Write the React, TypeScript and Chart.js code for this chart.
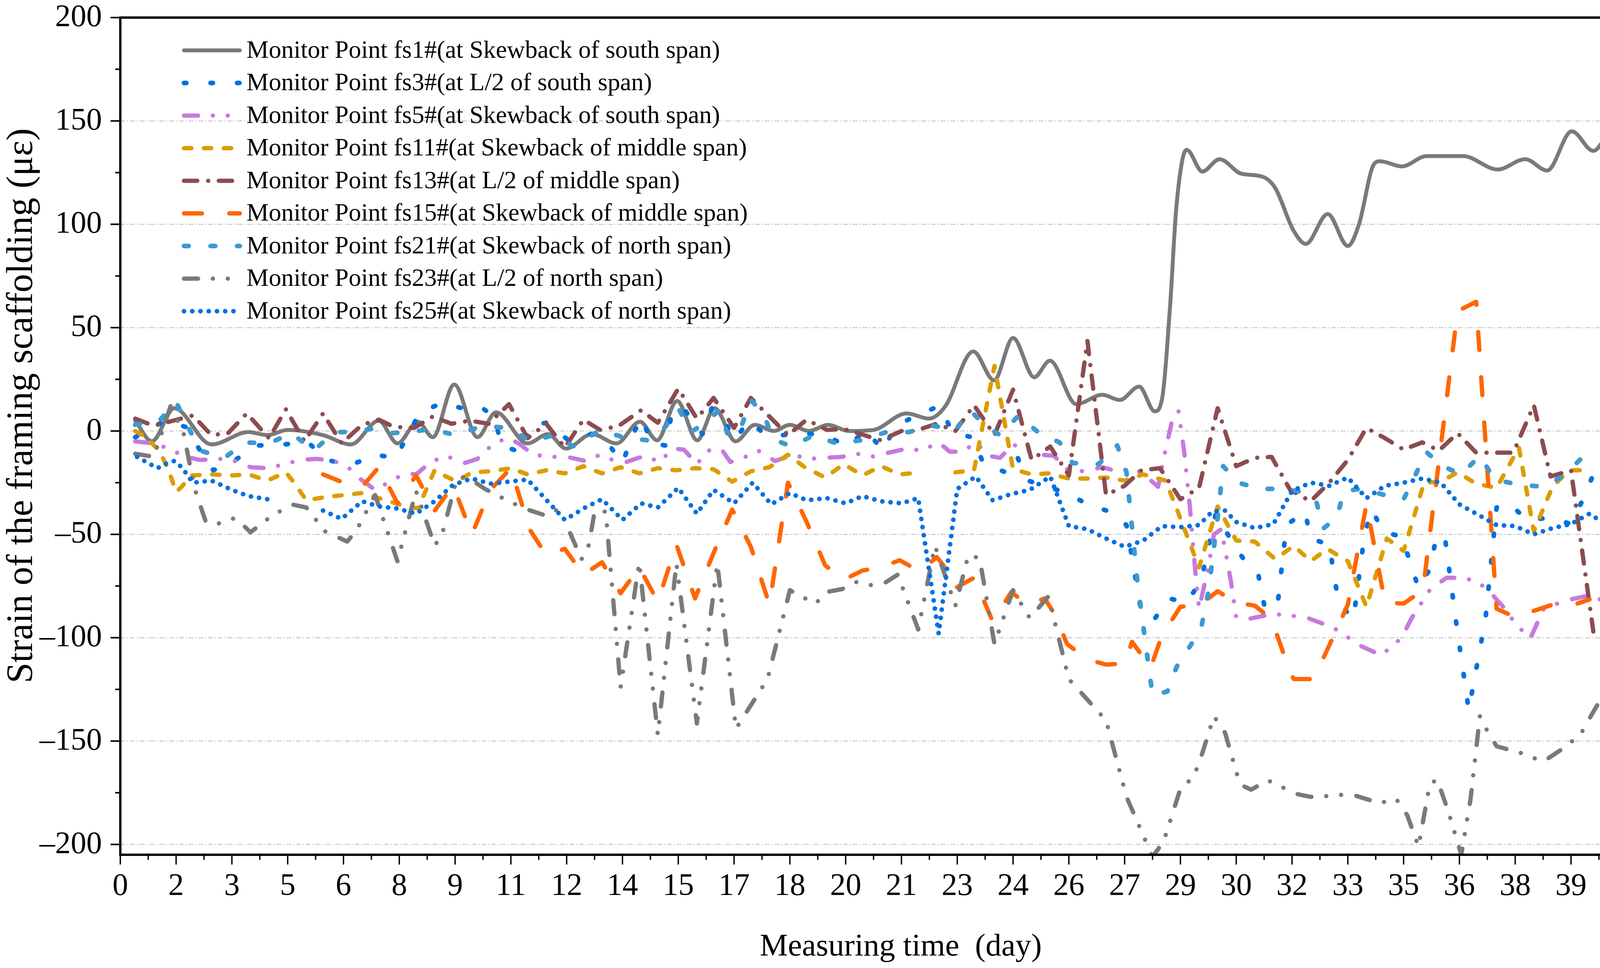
import React, { useEffect, useRef } from 'react';
import { Chart, registerables } from 'chart.js';

Chart.register(...registerables);

type Pt = [number, number | null];

// ---------------- data (time in days, strain in με) ----------------
const fs1: Pt[] = [[0.4,5],[0.85,-5],[1.45,11],[2.45,-6.5],[3.45,-0.5],[3.95,-2],[4.5,0.5],[5.45,-2],[6.2,-6.5],[6.95,5],[7.45,-6],[8.0,4.5],[8.4,-3],[8.98,22.5],[9.6,-3],[10.1,9],[10.95,-6],[11.5,-1.5],[11.98,-8.5],[12.68,-1.5],[13.34,-6],[13.97,4.5],[14.43,-4.5],[14.97,14.5],[15.51,-4.5],[15.98,11],[16.54,-5],[17.06,3],[17.57,0],[18.0,3],[18.51,0],[19.03,3],[19.59,0],[20.24,0.5],[21.14,8.5],[21.74,6],[22.18,12],[22.93,38.5],[23.49,24.5],[24.0,45],[24.57,26],[24.99,34],[25.7,13],[26.4,17.5],[26.87,15],[27.39,21.5],[27.81,9.5],[28.0,15],[28.22,60],[28.38,106],[28.55,131],[28.67,136],[29.09,125.5],[29.55,131.5],[30.13,124.5],[30.71,123],[31.05,117.5],[31.54,97],[31.87,90.5],[32.46,105],[33.0,89.5],[33.3,100],[33.7,129],[33.87,130.5],[34.45,128],[35.12,133],[36.1,133],[37.03,126.5],[37.77,131.5],[38.36,126],[39.02,145],[39.6,135.5],[40.0,144]];

const fs3: Pt[] = [[0.4,-3],[1.2,5],[1.75,2],[2.2,-11],[2.5,-19],[3.0,-15],[3.7,-7],[4.4,-6.5],[5.05,-5.5],[5.55,-14],[6.2,-16.5],[6.85,-11.5],[7.4,-13],[7.75,-1.5],[8.05,9],[8.65,13.5],[9.2,11],[9.7,11.5],[10.05,7],[10.25,-7],[10.8,-10.5],[11.0,2.5],[11.45,4],[12.05,-4.5],[12.65,-1.5],[13.15,-7],[13.5,-15.5],[13.75,-3],[14.0,6.5],[14.3,-6],[14.65,-7],[14.8,6],[15.1,12],[15.65,-1.5],[15.9,11],[16.25,5],[16.5,-4.5],[16.9,5],[17.35,-2],[17.8,-2],[18.25,-1],[18.95,-2],[19.55,-7.5],[20.05,0.5],[20.5,-9.5],[20.85,2.5],[21.35,7],[22.0,12],[22.4,-1],[22.9,-3],[23.2,-15.5],[23.8,-20],[24.1,-12],[24.4,-24],[25.45,-30],[26.0,-35.5],[26.6,-39],[27.05,-45.5],[27.45,-88],[27.8,-91],[28.2,-81],[28.65,-83],[29.05,-73],[29.45,-40],[29.9,-54],[30.2,-62],[30.6,-70],[30.75,-84],[31.1,-86],[31.35,-45.5],[31.85,-39],[32.0,-52],[32.5,-55],[32.75,-83],[33.15,-91],[33.45,-50],[33.65,-38],[33.95,-49],[34.45,-51],[34.9,-76],[35.2,-67],[35.35,-54],[35.6,-50],[35.9,-91],[36.25,-135],[36.7,-91],[37.0,-37],[37.35,-35],[37.8,-43],[38.45,-42],[39.0,-45],[39.35,-32],[39.6,-21],[39.8,-15]];

const fs5: Pt[] = [[0.4,-5],[0.9,-6],[1.3,-8.5],[1.75,-12.5],[2.15,-14],[2.7,-13.5],[3.0,-14],[3.5,-17.5],[3.95,-18],[4.45,-16],[4.8,-14],[5.3,-13.5],[5.75,-14.5],[6.15,-18],[6.4,-22.5],[6.85,-28.5],[7.25,-24.5],[7.65,-20.5],[7.95,-21],[8.35,-15],[8.75,-12],[9.25,-15.5],[9.6,-13.5],[9.95,-7.5],[10.4,-3],[10.75,-6.5],[11.1,-11.5],[11.6,-12.5],[12.0,-12.5],[12.5,-14.5],[12.9,-11.5],[13.3,-14.5],[13.6,-15],[14.1,-12],[14.5,-15],[14.85,-8.5],[15.15,-9],[15.5,-16],[15.8,-9.5],[16.15,-8.5],[16.4,-15],[16.8,-12.5],[17.15,-9.5],[17.6,-14.5],[18.1,-11.5],[18.5,-13.5],[18.9,-13],[19.4,-12.5],[19.8,-11],[20.3,-12.5],[20.65,-10.5],[21.15,-8.5],[21.55,-9.5],[22.0,-5.5],[22.3,-10],[22.65,-10],[23.0,-5.5],[23.35,-12],[23.65,-13],[24.0,-6.5],[24.3,-9],[24.8,-11.5],[25.1,-12],[25.45,-18.5],[25.9,-19.5],[26.4,-17.5],[26.8,-19.5],[27.25,-18],[27.55,-21.5],[27.9,-27],[28.1,-9],[28.3,7],[28.45,9.5],[28.6,-10],[28.75,-36],[28.9,-68],[29.0,-86],[29.25,-66],[29.4,-50],[29.6,-47.5],[29.85,-72],[30.0,-90],[30.3,-91],[31.0,-88.5],[31.85,-90],[32.6,-95],[33.35,-104],[33.9,-108.5],[34.45,-100],[34.7,-91],[35.2,-77],[35.65,-71],[36.1,-71],[36.5,-73],[36.85,-78.5],[37.2,-85.5],[37.5,-93],[37.9,-100.5],[38.27,-86],[38.85,-82],[39.5,-79.5],[40.0,-83]];

const fs11: Pt[] = [[0.4,0],[0.65,-2.5],[1.05,-9.5],[1.3,-19],[1.5,-29.5],[1.65,-27],[1.9,-21.5],[2.45,-21],[3.0,-21.5],[3.45,-21],[3.95,-24],[4.45,-20],[4.65,-24.5],[5.0,-33.5],[5.5,-32],[6.0,-31],[6.5,-30],[6.95,-32.5],[7.5,-35.5],[8.0,-37.5],[8.45,-19],[8.7,-21.5],[9.05,-24.5],[9.45,-20],[9.95,-19.5],[10.5,-18],[10.95,-21],[11.45,-19],[11.95,-20.5],[12.45,-17],[12.95,-20.5],[13.45,-17.5],[13.95,-20.5],[14.45,-18],[14.95,-19],[15.45,-18],[15.95,-18.5],[16.45,-24.5],[16.95,-19.5],[17.45,-17.5],[17.95,-11.5],[18.4,-17.5],[18.95,-22.5],[19.45,-16],[19.95,-21.5],[20.45,-17],[20.95,-21],[21.25,-20.5],[21.8,null],[22.45,-20],[22.95,-19],[23.5,31.5],[24.0,-18.5],[24.5,-21],[24.95,-20.5],[25.5,-23],[26.0,-23],[26.5,-22.5],[27.0,-24],[27.5,-21],[28.1,-24],[28.45,-40],[29.0,-66],[29.5,-36.5],[30.0,-53],[30.5,-53.5],[31.05,-62],[31.55,-55.5],[32.0,-63],[32.45,-57],[33.0,-63],[33.5,-85],[34.05,-52],[34.5,-58],[35.05,-25],[35.5,-24.5],[35.95,-20],[36.45,-25.5],[37.0,-27.5],[37.6,-8],[38.0,-48.5],[38.5,-27],[38.95,-19],[39.25,-19]];

const fs13: Pt[] = [[0.4,6],[0.9,2.5],[1.95,7.5],[2.45,-2],[2.9,-1],[3.4,8.5],[4.0,-3.5],[4.45,10.5],[4.95,-5],[5.45,8.5],[5.95,-6],[6.5,3],[6.95,5.5],[7.35,2],[7.9,1.5],[8.4,7],[8.9,3.5],[9.4,5],[9.9,3.5],[10.45,13],[10.95,-3.5],[11.45,3.5],[11.95,-8],[12.45,5.5],[12.9,0.5],[13.4,2.5],[14.0,10],[14.45,4],[15.0,20.5],[15.5,6],[15.95,16],[16.5,1.5],[16.95,16],[17.95,-2],[18.45,5.5],[19.0,0.5],[19.45,1],[20.45,-4.5],[21.0,0],[21.35,0],[21.95,3.5],[22.45,0],[22.95,12.5],[23.5,-2],[24.0,20],[24.5,-14],[25.0,-7.5],[25.5,-21.5],[26.0,43.5],[26.5,-31],[27.0,-26.5],[27.45,-19],[27.95,-18],[28.5,-33],[29.0,-27.5],[29.5,11],[30.0,-17],[30.5,-13],[30.95,-12.5],[31.45,-28.5],[32.0,-34],[32.5,-25],[33.0,-14],[33.5,1.5],[34.0,-3.5],[34.5,-9],[35.0,-5.5],[35.45,-9.5],[35.95,-1],[36.45,-10.5],[37.45,-10.5],[38.0,12.5],[38.45,-22],[39.0,-19],[39.6,-97]];

const fs15: Pt[] = [[5.45,-21],[6.0,-25],[6.5,-27],[6.95,-17.5],[7.45,-35],[7.95,-21.5],[8.45,-38.5],[8.95,-26.5],[9.45,-50],[9.95,-28.5],[10.5,-18],[11.0,-47.5],[11.45,-60],[11.95,-57],[12.45,-69.5],[12.95,-63.5],[13.45,-78.5],[13.95,-66],[14.45,-82.5],[14.95,-55],[15.45,-81],[15.95,-59],[16.45,-38],[16.95,-56],[17.45,-84],[17.95,-25],[18.45,-44],[18.95,-65],[19.45,-72],[19.95,-67.5],[20.45,-66],[20.95,-62.5],[21.5,-68],[21.95,-61],[22.3,-69],[22.45,-76],[22.95,-71],[23.45,-92],[23.95,-78],[24.4,-84],[24.85,-81],[25.15,-89.5],[25.45,-103],[26.0,-110.5],[26.5,-113],[27.0,-112.5],[27.2,-102],[27.7,-114.5],[28.0,-99],[28.5,-85],[29.0,-84.5],[29.5,-77.5],[30.0,-83],[30.5,-84.5],[30.95,-91],[31.45,-117],[31.55,-120],[32.05,-120],[32.3,-111.5],[32.75,-94],[33.0,-84],[33.5,-35.5],[34.0,-83],[34.5,-83.5],[35.02,-77],[35.95,58],[36.45,62.5],[37.0,-86],[37.5,-90],[38.5,-84],[39.0,-84.5],[39.5,-81.5]];

const fs21: Pt[] = [[0.4,3],[1.05,5],[1.5,14],[1.85,1],[2.15,-9.5],[2.8,-13],[3.35,-5.5],[4.0,-6],[4.6,-1],[5.2,-9.5],[5.75,-0.5],[6.25,-0.5],[6.75,1],[7.3,-1],[7.8,-0.5],[8.35,1],[9.0,-2],[9.75,2.5],[10.4,1.5],[11.05,-5],[11.65,-2],[12.2,-7.5],[12.9,0.5],[13.6,-3.5],[14.2,-4.5],[14.65,2],[15.0,11],[15.35,-0.5],[15.75,4.5],[16.1,10],[16.35,-2.5],[16.7,2.5],[16.95,15],[17.3,8],[17.55,-4],[18.05,-7.5],[18.65,-2],[19.25,-6],[19.9,-4.5],[20.6,-0.5],[21.2,-0.5],[21.85,2.5],[22.45,0.5],[22.85,10],[23.25,2.5],[23.65,-2],[24.15,7.5],[24.7,-1],[25.25,-5.5],[25.6,-15.5],[26.3,-16],[26.8,-7],[27.05,-20],[27.35,-74],[27.75,-128],[28.15,-126],[28.4,-114],[29.05,-96],[29.25,-78],[29.5,-42],[29.65,-17],[30.05,-25],[30.65,-28],[31.2,-28],[31.65,-29],[32.15,-34],[32.35,-47],[32.7,-42],[32.9,-29],[33.35,-28],[34.0,-31],[34.5,-33],[34.85,-20],[35.1,-10],[35.55,-17],[36.05,-21],[36.55,-12],[36.95,-23.5],[37.6,-26],[38.3,-27],[38.85,-21],[39.4,-11],[39.6,-10]];

const fs23: Pt[] = [[0.4,-11],[0.9,-12.5],[1.35,12],[1.7,-1],[2.0,-28],[2.3,-44],[2.6,-45],[3.1,-42],[3.5,-49],[4.0,-42],[4.6,-35.5],[5.0,-37],[5.5,-48.5],[6.1,-53.5],[6.35,-48],[6.85,-31],[7.45,-63],[7.95,-29],[8.45,-55.5],[8.65,-50],[9.05,-23],[9.3,-22],[9.8,-28],[10.5,-34.5],[10.95,-38],[11.45,-41],[11.8,-37.5],[12.4,-62],[12.6,-55],[12.75,-39],[13.05,-39],[13.45,-124],[13.95,-63.5],[14.45,-147],[14.95,-64],[15.5,-141.5],[16.05,-64],[16.55,-144],[17.4,-120],[18.0,-77],[18.3,-80],[18.7,-83.5],[18.95,-78],[19.4,-76.5],[19.8,-73],[20.3,-75],[20.55,-73.5],[20.9,-69.5],[21.45,-96],[21.9,-55.5],[22.45,-84.5],[22.8,-60],[23.1,-61.5],[23.5,-103],[24.0,-77],[24.45,-90.5],[24.95,-80],[25.5,-120],[26.0,-130],[26.5,-140],[27.05,-177],[27.75,-206],[28.05,-198.5],[28.5,-173],[28.85,-167.5],[29.05,-158],[29.4,-138],[29.7,-146],[30.1,-171],[30.4,-173.5],[30.85,-169],[31.2,-172],[31.6,-175.5],[32.0,-177],[32.6,-176.5],[33.05,-175.5],[33.85,-180],[34.3,-178],[34.6,-186],[34.9,-201],[35.2,-171],[35.4,-168.5],[35.7,-184],[36.05,-205],[36.3,-178],[36.55,-138],[36.7,-143.5],[37.0,-152.5],[37.3,-154],[37.7,-156],[38.25,-160],[38.75,-154],[39.0,-150.5],[39.25,-147],[39.5,-139],[39.95,-125]];

const fs25: Pt[] = [[0.45,-12.5],[0.7,-15],[1.0,-18],[1.2,-16],[1.45,-14.5],[1.65,-17.5],[1.95,-25],[2.2,-24.5],[2.45,-24],[2.7,-26],[3.0,-28.5],[3.45,-31.5],[3.95,-33],[4.7,null],[5.45,-38.5],[5.95,-42.5],[6.5,-34],[6.95,-36.5],[7.45,-37.5],[7.95,-40],[8.45,-34],[8.95,-26],[9.45,-23],[9.95,-25.5],[10.45,-24.5],[10.95,-23.5],[11.95,-43],[12.5,-37],[12.95,-33],[13.5,-43],[14.0,-35],[14.45,-37],[15.0,-27.5],[15.5,-40],[15.95,-28.5],[16.5,-35],[17.0,-25],[17.5,-35.5],[18.0,-30],[18.45,-33.5],[19.0,-32.5],[19.5,-35],[19.95,-31.5],[20.45,-34],[21.0,-35],[21.45,-32.5],[22.0,-98],[22.5,-28],[23.0,-22],[23.45,-33.5],[23.95,-30.5],[24.45,-28.5],[25.0,-22],[25.5,-46],[26.0,-47.5],[26.5,-52],[27.0,-56],[27.5,-53],[28.0,-46],[28.5,-46.5],[29.0,-45.5],[29.35,-39],[29.7,-38.5],[30.0,-44],[30.5,-47],[31.0,-45],[31.5,-29],[32.0,-25],[32.5,-26.5],[33.0,-22.5],[33.5,-32.5],[34.0,-26.5],[34.5,-25],[35.0,-23],[35.5,-25],[36.0,-35.5],[36.5,-40.5],[37.0,-45.5],[37.5,-46],[38.0,-50],[38.5,-47],[39.0,-45],[39.5,-40],[39.95,-45.5]];

const seriesNames = [
  'Monitor Point fs1#(at Skewback of south span)',
  'Monitor Point fs3#(at L/2 of south span)',
  'Monitor Point fs5#(at Skewback of south span)',
  'Monitor Point fs11#(at Skewback of middle span)',
  'Monitor Point fs13#(at L/2 of middle span)',
  'Monitor Point fs15#(at Skewback of middle span)',
  'Monitor Point fs21#(at Skewback of north span)',
  'Monitor Point fs23#(at L/2 of north span)',
  'Monitor Point fs25#(at Skewback of north span)',
];
const seriesData = [fs1, fs3, fs5, fs11, fs13, fs15, fs21, fs23, fs25];

const xTickValues = [0,1.5,3,4.5,6,7.5,9,10.5,12,13.5,15,16.5,18,19.5,21,22.5,24,25.5,27,28.5,30,31.5,33,34.5,36,37.5,39];
const xTickLabels = ['0','2','3','5','6','8','9','11','12','14','15','17','18','20','21','23','24','26','27','29','30','32','33','35','36','38','39'];
const yTickValues = [200,150,100,50,0,-50,-100,-150,-200];
const yTickLabels = ['200','150','100','50','0','\u201350','\u2013100','\u2013150','\u2013200'];
const xTitle = 'Measuring time  (day)';
const yTitle = 'Strain of the framing scaffolding (\u03bc\u03b5)';

// ---------------- styles / layout ----------------
const W = 4141;
const H = 2479;
const AREA = { left: 308, top: 45, right: 4117, bottom: 2189 };
const styles = [
  { color: '#7a7a7a', width: 10, dash: [] as number[] },
  { color: '#0070e0', width: 12, dash: [6, 62] },
  { color: '#c67ade', width: 11, dash: [36, 38, 0.1, 38, 0.1, 40] },
  { color: '#dc9d00', width: 11, dash: [19, 32] },
  { color: '#8c4c4f', width: 11, dash: [34, 28, 0.1, 27] },
  { color: '#ff6600', width: 11, dash: [46, 70] },
  { color: '#3e9ad0', width: 12, dash: [12, 56] },
  { color: '#7a7a7a', width: 11, dash: [36, 38, 0.1, 38, 0.1, 40] },
  { color: '#0070e0', width: 12, dash: [0.1, 21] },
];
const SERIF = '"Liberation Serif", "Times New Roman", serif';

const decor = {
  id: 'decor',
  beforeDatasetsDraw(chart: any) {
    const { ctx, chartArea: a, scales } = chart;
    ctx.save();
    ctx.strokeStyle = '#cfcfcf';
    ctx.lineWidth = 3;
    ctx.setLineDash([12, 5, 3, 5]);
    for (const v of yTickValues) {
      if (v >= 200) continue;
      const py = scales.y.getPixelForValue(v);
      ctx.beginPath();
      ctx.moveTo(a.left, py);
      ctx.lineTo(a.right, py);
      ctx.stroke();
    }
    ctx.restore();
  },
  afterDraw(chart: any) {
    const { ctx, chartArea: a, scales } = chart;
    ctx.save();
    ctx.setLineDash([]);
    ctx.strokeStyle = '#000';
    ctx.fillStyle = '#000';
    // frame
    ctx.lineWidth = 6;
    ctx.strokeRect(a.left, a.top, a.right - a.left, a.bottom - a.top);
    // x ticks + labels
    ctx.lineWidth = 3.5;
    ctx.lineCap = 'butt';
    ctx.font = `80px ${SERIF}`;
    ctx.textAlign = 'center';
    ctx.textBaseline = 'middle';
    xTickValues.forEach((v, i) => {
      const px = scales.x.getPixelForValue(v);
      ctx.beginPath();
      ctx.moveTo(px, a.bottom);
      ctx.lineTo(px, a.bottom + 25);
      ctx.stroke();
      ctx.fillText(xTickLabels[i], px, a.bottom + 82);
      const next = i + 1 < xTickValues.length ? xTickValues[i + 1] : v + (v - xTickValues[i - 1]);
      const mid = (v + next) / 2;
      if (mid <= scales.x.max) {
        const pm = scales.x.getPixelForValue(mid);
        ctx.beginPath();
        ctx.moveTo(pm, a.bottom);
        ctx.lineTo(pm, a.bottom + 13);
        ctx.stroke();
      }
    });
    // y ticks + labels
    ctx.lineWidth = 4;
    ctx.textAlign = 'right';
    yTickValues.forEach((v, i) => {
      const py = scales.y.getPixelForValue(v);
      ctx.beginPath();
      ctx.moveTo(a.left, py);
      ctx.lineTo(a.left - 25, py);
      ctx.stroke();
      ctx.fillText(yTickLabels[i], a.left - 47, py + 1);
      if (i + 1 < yTickValues.length) {
        const m = scales.y.getPixelForValue((v + yTickValues[i + 1]) / 2);
        ctx.beginPath();
        ctx.moveTo(a.left, m);
        ctx.lineTo(a.left - 13, m);
        ctx.stroke();
      }
    });
    // axis titles
    ctx.font = `81px ${SERIF}`;
    ctx.textAlign = 'center';
    ctx.textBaseline = 'alphabetic';
    ctx.fillText(xTitle, 2306, 2447);
    ctx.save();
    ctx.translate(82, 1039);
    ctx.rotate(-Math.PI / 2);
    ctx.font = `95px ${SERIF}`;
    ctx.fillText(yTitle, 0, 0);
    ctx.restore();
    // legend
    const lx0 = 471, lx1 = 614, tx = 631, ly0 = 129, dly = 83.5;
    seriesNames.forEach((name, i) => {
      const yy = ly0 + i * dly;
      ctx.strokeStyle = styles[i].color;
      ctx.lineWidth = styles[i].width;
      ctx.lineCap = 'round';
      ctx.setLineDash(styles[i].dash);
      ctx.beginPath();
      ctx.moveTo(lx0, yy);
      ctx.lineTo(lx1, yy);
      ctx.stroke();
      ctx.setLineDash([]);
      ctx.font = `64px ${SERIF}`;
      ctx.textAlign = 'left';
      ctx.textBaseline = 'middle';
      ctx.fillText(name, tx, yy + 2);
    });
    ctx.restore();
  },
};

export default function App() {
  const ref = useRef<HTMLCanvasElement>(null);
  useEffect(() => {
    document.body.style.margin = '0';
    const canvas = ref.current!;
    const chart = new Chart(canvas, {
      type: 'line',
      data: {
        datasets: seriesData.map((d, i) => ({
          label: seriesNames[i],
          data: d.map(([x, y]) => ({ x, y })),
          borderColor: styles[i].color,
          backgroundColor: styles[i].color,
          borderWidth: styles[i].width,
          borderDash: styles[i].dash,
          borderCapStyle: 'round',
          borderJoinStyle: 'round',
          pointRadius: 0,
          pointHoverRadius: 0,
          tension: 0,
          cubicInterpolationMode: i === 0 ? 'monotone' : 'default',
          spanGaps: false,
          fill: false,
          order: seriesData.length - 1 - i,
        })) as any,
      },
      options: {
        animation: false,
        responsive: false,
        devicePixelRatio: 1,
        events: [],
        layout: {
          padding: { left: AREA.left, right: W - AREA.right, top: AREA.top, bottom: H - AREA.bottom },
        },
        plugins: { legend: { display: false }, tooltip: { enabled: false }, title: { display: false } },
        scales: {
          x: { type: 'linear', min: 0, max: 40, display: false },
          y: { type: 'linear', min: -205, max: 200, display: false },
        },
      } as any,
      plugins: [decor],
    });
    return () => chart.destroy();
  }, []);
  return (
    <div style={{ width: W, height: H }}>
      <canvas ref={ref} width={W} height={H} style={{ display: 'block', width: W, height: H }} />
    </div>
  );
}
